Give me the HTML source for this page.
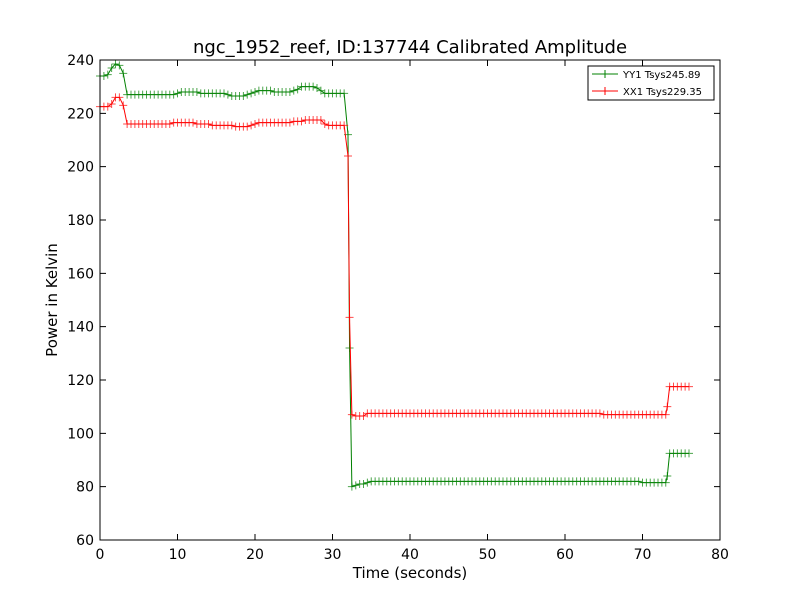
<!DOCTYPE html>
<html><head><meta charset="utf-8"><style>
body{margin:0;background:#fff;}
svg{display:block;font-family:"DejaVu Sans","Liberation Sans",sans-serif;}
</style></head><body>
<svg id="chart" width="800" height="600" viewBox="0 0 800 600" xmlns="http://www.w3.org/2000/svg">
<rect width="800" height="600" fill="#fff"/>
<text x="410" y="53" text-anchor="middle" font-size="18">ngc_1952_reef, ID:137744 Calibrated Amplitude</text>
<g id="series"></g>
<g id="axes"></g>
<text x="410" y="578" text-anchor="middle" font-size="15">Time (seconds)</text>
<text x="57" y="300" text-anchor="middle" font-size="15" transform="rotate(-90 57 300)">Power in Kelvin</text>
<g>
<rect x="588" y="66" width="126" height="34" fill="#fff" stroke="#000" stroke-width="1"/>
<line x1="592" y1="74" x2="618" y2="74" stroke="green"/><path d="M601 74h8M605 70v8" stroke="green"/>
<text x="623" y="78" font-size="10">YY1 Tsys245.89</text>
<line x1="592" y1="91" x2="618" y2="91" stroke="red"/><path d="M601 91h8M605 87v8" stroke="red"/>
<text x="623" y="95" font-size="10">XX1 Tsys229.35</text>
</g>
</svg>
<script>
const times=[0,0.5,1,1.5,2,2.5,3,3.5,4,4.5,5,5.5,6,6.5,7,7.5,8,8.5,9,9.5,10,10.5,11,11.5,12,12.5,13,13.5,14,14.5,15,15.5,16,16.5,17,17.5,18,18.5,19,19.5,20,20.5,21,21.5,22,22.5,23,23.5,24,24.5,25,25.5,26,26.5,27,27.5,28,28.5,29,29.5,30,30.5,31,31.5,32,32.2,32.5,33,33.5,34,34.5,35,35.5,36,36.5,37,37.5,38,38.5,39,39.5,40,40.5,41,41.5,42,42.5,43,43.5,44,44.5,45,45.5,46,46.5,47,47.5,48,48.5,49,49.5,50,50.5,51,51.5,52,52.5,53,53.5,54,54.5,55,55.5,56,56.5,57,57.5,58,58.5,59,59.5,60,60.5,61,61.5,62,62.5,63,63.5,64,64.5,65,65.5,66,66.5,67,67.5,68,68.5,69,69.5,70,70.5,71,71.5,72,72.5,73,73.2,73.5,74,74.5,75,75.5,76];
const yy1=[234,234,234.5,237,238.5,238,235,
227,227,227,227,227,227,227,227,227,227,227,227,227,
227.5,228,228,228,228,228,
227.5,227.5,227.5,227.5,227.5,227.5,227.5,227,
226.5,226.5,226.5,226.5,227,227.5,228,
228.5,228.5,228.5,228.5,228,228,228,228,228,228.5,229,
230,230,230,230,229.5,228.5,
227.5,227.5,227.5,227.5,227.5,227.5,212,132,
80,80.5,81,81,81.5,
82,82,82,82,82,82,82,82,82,82,82,82,82,82,82,82,82,82,82,82,
82,82,82,82,82,82,82,82,82,82,82,82,82,82,82,82,82,82,82,82,
82,82,82,82,82,82,82,82,82,82,82,82,82,82,82,82,82,82,82,82,
82,82,82,82,82,82,82,82,82,82,
81.5,81.5,81.5,81.5,81.5,81.5,81.5,84,
92.5,92.5,92.5,92.5,92.5,92.5];
const xx1=[222.5,222.5,222.5,223.5,226,226,223,
216,216,216,216,216,216,216,216,216,216,216,216,
216.5,216.5,216.5,216.5,216.5,216.5,
216,216,216,216,
215.5,215.5,215.5,215.5,215.5,215.5,
215,215,215,215,215.5,216,
216.5,216.5,216.5,216.5,216.5,216.5,216.5,216.5,216.5,
217,217,217,217.5,217.5,217.5,217.5,217.5,216,
215.5,215.5,215.5,215.5,215.5,204,143.5,
107,106.5,106.5,106.5,107.5,
107.5,107.5,107.5,107.5,107.5,107.5,107.5,107.5,107.5,107.5,107.5,107.5,107.5,107.5,107.5,107.5,107.5,107.5,107.5,107.5,
107.5,107.5,107.5,107.5,107.5,107.5,107.5,107.5,107.5,107.5,107.5,107.5,107.5,107.5,107.5,107.5,107.5,107.5,107.5,107.5,
107.5,107.5,107.5,107.5,107.5,107.5,107.5,107.5,107.5,107.5,107.5,107.5,107.5,107.5,107.5,107.5,107.5,107.5,107.5,107.5,
107,107,107,107,107,107,107,107,107,107,107,107,107,107,107,107,107,110,
117.5,117.5,117.5,117.5,117.5,117.5];
const xTicks=[0,10,20,30,40,50,60,70,80];
const yTicks=[60,80,100,120,140,160,180,200,220,240];
const X0=100,X1=720,Y0=540,Y1=60,XMIN=0,XMAX=80,YMIN=60,YMAX=240;
function sx(v){return X0+(v-XMIN)/(XMAX-XMIN)*(X1-X0);}
function sy(v){return Y0-(v-YMIN)/(YMAX-YMIN)*(Y0-Y1);}
const NS="http://www.w3.org/2000/svg";
const sg=document.getElementById('series');
function drawSeries(vals,color,name){
  const g=document.createElementNS(NS,'g');
  
  
  let d='';
  vals.forEach((v,i)=>{d+=(i?'L':'M')+sx(times[i]).toFixed(2)+' '+sy(v).toFixed(2);});
  const p=document.createElementNS(NS,'path');
  
  
  p.setAttribute('d',d);p.setAttribute('fill','none');p.setAttribute('stroke',color);p.setAttribute('stroke-width','1');
  g.appendChild(p);
  let m='';
  vals.forEach((v,i)=>{const x=sx(times[i]),y=sy(v);m+='M'+(x-4).toFixed(2)+' '+y.toFixed(2)+'h8M'+x.toFixed(2)+' '+(y-4).toFixed(2)+'v8';});
  const mk=document.createElementNS(NS,'path');
  
  
  mk.setAttribute('d',m);mk.setAttribute('stroke',color);mk.setAttribute('stroke-width','1');mk.setAttribute('opacity','0.7');
  g.appendChild(mk);
  sg.appendChild(g);
}
drawSeries(yy1,'green','series-yy1');
drawSeries(xx1,'red','series-xx1');
const ag=document.getElementById('axes');
const frame=document.createElementNS(NS,'rect');


frame.setAttribute('x',X0);frame.setAttribute('y',Y1);frame.setAttribute('width',X1-X0);frame.setAttribute('height',Y0-Y1);
frame.setAttribute('fill','none');frame.setAttribute('stroke','#000');
ag.appendChild(frame);
let td='';
xTicks.forEach(t=>{
  const x=sx(t);td+='M'+x+' '+Y0+'v-6M'+x+' '+Y1+'v6';
  const tx=document.createElementNS(NS,'text');
  
  
  tx.setAttribute('x',x);tx.setAttribute('y',Y0+19);tx.setAttribute('text-anchor','middle');tx.setAttribute('font-size','14');
  tx.textContent=t;ag.appendChild(tx);
});
yTicks.forEach(t=>{
  const y=sy(t);td+='M'+X0+' '+y+'h6M'+X1+' '+y+'h-6';
  const tx=document.createElementNS(NS,'text');
  
  
  tx.setAttribute('x',X0-6);tx.setAttribute('y',y+5);tx.setAttribute('text-anchor','end');tx.setAttribute('font-size','14');
  tx.textContent=t;ag.appendChild(tx);
});
const tk=document.createElementNS(NS,'path');


tk.setAttribute('d',td);tk.setAttribute('stroke','#000');
ag.appendChild(tk);
</script>
</body></html>
